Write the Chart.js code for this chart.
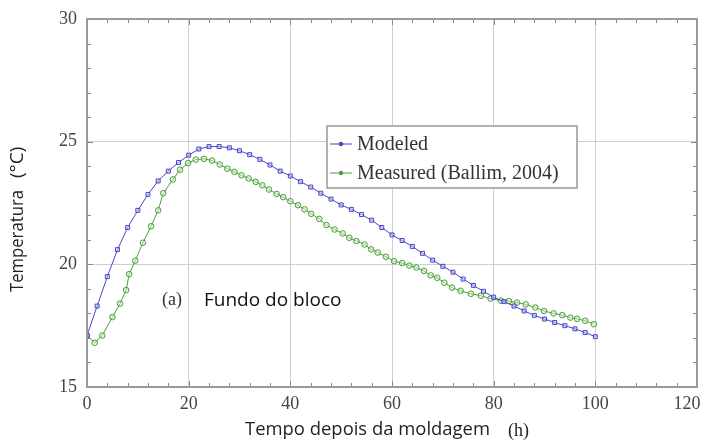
<!DOCTYPE html>
<html>
<head>
<meta charset="utf-8">
<script src="https://cdn.jsdelivr.net/npm/chart.js@4.4.1/dist/chart.umd.min.js"></script>
<style>
  html, body { margin: 0; padding: 0; background: #fff; }
  #wrap { width: 708px; height: 442px; position: relative; }
</style>
</head>
<body>
<div id="wrap"><canvas id="c"></canvas></div>
<script>
// modeled: every 2 h
const modeledHours = [0, 2, 4, 6, 8, 10, 12, 14, 16, 18, 20, 22, 24, 26, 28, 30, 32, 34, 36, 38, 40,
  42, 44, 46, 48, 50, 52, 54, 56, 58, 60, 62, 64, 66, 68, 70, 72, 74, 76, 78, 80,
  82, 84, 86, 88, 90, 92, 94, 96, 98, 100];
const modeledTemp = [17.1, 18.3, 19.5, 20.6, 21.5, 22.2, 22.85, 23.4, 23.8, 24.15, 24.45, 24.7, 24.8, 24.8, 24.75, 24.63, 24.47, 24.28, 24.05, 23.8, 23.6,
  23.37, 23.15, 22.9, 22.66, 22.42, 22.24, 22.03, 21.8, 21.5, 21.2, 20.97, 20.73, 20.45, 20.17, 19.92, 19.68, 19.4, 19.14, 18.9, 18.66,
  18.48, 18.3, 18.1, 17.92, 17.77, 17.63, 17.5, 17.37, 17.22, 17.05];

// measured (Ballim, 2004)
const measuredHours = [0, 1.5, 3, 5, 6.5, 7.7, 8.3, 9.5, 11, 12.6, 14, 15, 16.9, 18.3, 19.9, 21.4, 23, 24.6, 26.1, 27.6,
  29, 30.4, 31.8, 33.2, 34.5, 35.8, 37.3, 38.6, 40, 41.5, 42.8, 44.1, 45.7, 47.1, 48.7, 50.3, 51.6, 53, 54.6, 55.9,
  57.2, 58.8, 60.4, 62, 63.4, 64.8, 66.3, 67.6, 68.9, 70.3, 71.8, 73.5, 75.5, 77.5, 79.4, 81.4, 83, 84.6, 86.3, 88.2,
  89.9, 91.8, 93.5, 95.1, 96.4, 98, 99.7];
const measuredTemp = [17.1, 16.8, 17.1, 17.85, 18.4, 18.95, 19.6, 20.15, 20.88, 21.55, 22.2, 22.9, 23.46, 23.86, 24.13, 24.27, 24.3, 24.23, 24.07, 23.9,
  23.77, 23.63, 23.5, 23.36, 23.22, 23.05, 22.87, 22.74, 22.57, 22.41, 22.24, 22.06, 21.85, 21.6, 21.42, 21.26, 21.08, 20.95, 20.81, 20.61,
  20.48, 20.31, 20.13, 20.05, 19.95, 19.87, 19.73, 19.55, 19.45, 19.25, 19.05, 18.92, 18.8, 18.72, 18.6, 18.52, 18.5, 18.44, 18.37, 18.24,
  18.1, 18.0, 17.93, 17.83, 17.78, 17.7, 17.56];

const seriesNames = ["Modeled", "Measured (Ballim, 2004)"];
const xTicks = [0, 20, 40, 60, 80, 100, 120];
const yTicks = [15, 20, 25, 30];

const blue = "#4646c8";
const green = "#4a9e3c";
const serif = "'Liberation Serif', 'DejaVu Serif', serif";
const sans = "'Open Sans', 'Noto Sans', sans-serif";

function pts(xs, ys) {
  return xs.map((x, i) => ({ x: x, y: ys[i] }));
}

// frame, minor ticks, axis titles, annotation and legend
const decor = {
  id: "decor",
  afterDraw(chart) {
    const ctx = chart.ctx;
    const a = chart.chartArea;
    const xs = chart.scales.x, ys = chart.scales.y;
    ctx.save();
    ctx.strokeStyle = "#8a8a8a";
    ctx.lineWidth = 1;
    // ticks inside, all four sides
    for (let v = 0; v <= 120; v += 4) {
      const px = Math.round(xs.getPixelForValue(v)) + 0.5;
      const len = v % 20 === 0 ? 6 : 4;
      ctx.beginPath();
      ctx.moveTo(px, a.bottom); ctx.lineTo(px, a.bottom - len);
      ctx.moveTo(px, a.top); ctx.lineTo(px, a.top + len);
      ctx.stroke();
    }
    for (let v = 15; v <= 30; v += 1) {
      const py = Math.round(ys.getPixelForValue(v)) + 0.5;
      const len = v % 5 === 0 ? 6 : 4;
      ctx.beginPath();
      ctx.moveTo(a.left, py); ctx.lineTo(a.left + len, py);
      ctx.moveTo(a.right, py); ctx.lineTo(a.right - len, py);
      ctx.stroke();
    }
    ctx.lineWidth = 2;
    ctx.strokeStyle = "#9a9a9a";
    ctx.strokeRect(a.left, a.top, a.right - a.left, a.bottom - a.top);

    // last x label sits a bit left of its tick in the original
    ctx.fillStyle = "#444";
    ctx.font = "18px " + serif;
    ctx.textAlign = "center";
    ctx.textBaseline = "middle";
    ctx.fillText(String(xTicks[xTicks.length - 1]), xs.getPixelForValue(xTicks[xTicks.length - 1]) - 10, 404);

    // y title (squeezed like the original)
    ctx.fillStyle = "#222";
    ctx.textAlign = "left";
    ctx.save();
    ctx.translate(18, 292);
    ctx.rotate(-Math.PI / 2);
    ctx.font = "19px " + sans;
    ctx.fillText("Temperatura", 0, 0, 102);
    ctx.fillText("(°C)", 114, 0, 46);
    ctx.restore();

    // x title
    ctx.font = "19px " + sans;
    ctx.fillText("Tempo depois da moldagem", 245, 430, 245);
    ctx.font = "18px " + serif;
    ctx.fillText("(h)", 508, 431);

    // annotation
    ctx.font = "18px " + serif;
    ctx.fillStyle = "#333";
    ctx.fillText("(a)", 162, 300);
    ctx.font = "19px " + sans;
    ctx.fillStyle = "#111";
    ctx.fillText("Fundo do bloco", 204, 301, 144);

    // legend box
    const lx = 327, ly = 126, lw = 250, lh = 62;
    ctx.fillStyle = "#fff";
    ctx.fillRect(lx, ly, lw, lh);
    ctx.lineWidth = 1.5;
    ctx.strokeStyle = "#999";
    ctx.strokeRect(lx, ly, lw, lh);
    chart.data.datasets.forEach((ds, i) => {
      const yy = ly + 18 + i * 29;
      ctx.strokeStyle = ds.borderColor;
      ctx.lineWidth = 1;
      ctx.beginPath();
      ctx.moveTo(lx + 3, yy); ctx.lineTo(lx + 25, yy);
      ctx.stroke();
      ctx.fillStyle = ds.borderColor;
      ctx.beginPath();
      ctx.arc(lx + 14, yy, 2.2, 0, Math.PI * 2);
      ctx.fill();
      ctx.fillStyle = "#333";
      ctx.font = "20px " + serif;
      ctx.fillText(ds.label, lx + 30, yy + 1, 212);
    });
    ctx.restore();
  }
};

new Chart(document.getElementById("c"), {
  type: "line",
  data: {
    datasets: [
      {
        label: seriesNames[0],
        data: pts(modeledHours, modeledTemp),
        borderColor: blue,
        backgroundColor: "rgba(200,200,255,0.5)",
        borderWidth: 1,
        pointStyle: "rect",
        pointRadius: 2.8,
        pointBorderWidth: 1,
        tension: 0
      },
      {
        label: seriesNames[1],
        data: pts(measuredHours, measuredTemp),
        borderColor: green,
        backgroundColor: "rgba(210,240,200,0.5)",
        borderWidth: 1,
        pointStyle: "circle",
        pointRadius: 2.8,
        pointBorderWidth: 1,
        tension: 0
      }
    ]
  },
  options: {
    responsive: true,
    maintainAspectRatio: false,
    animation: false,
    layout: { padding: { top: 19, right: 11, left: 0, bottom: 0 } },
    plugins: { legend: { display: false }, tooltip: { enabled: false } },
    scales: {
      x: {
        type: "linear",
        min: 0, max: 120,
        afterBuildTicks: (s) => { s.ticks = xTicks.map((v) => ({ value: v })); },
        afterFit: (s) => { s.height = 55; s.paddingRight = 0; s.paddingLeft = 0; },
        grid: { color: "#cfcfcf", drawTicks: false, lineWidth: 1 },
        border: { display: false },
        ticks: {
          color: "#444", font: { family: serif, size: 18 }, padding: 6,
          callback: (v) => (v === 120 ? "" : v) // drawn by decor
        }
      },
      y: {
        type: "linear",
        min: 15, max: 30,
        afterBuildTicks: (s) => { s.ticks = yTicks.map((v) => ({ value: v })); },
        afterFit: (s) => { s.width = 87; s.paddingTop = 0; s.paddingBottom = 0; },
        grid: { color: "#cfcfcf", drawTicks: false, lineWidth: 1 },
        border: { display: false },
        ticks: { color: "#444", font: { family: serif, size: 18 }, padding: 10 }
      }
    }
  },
  plugins: [decor]
});
</script>
</body>
</html>
